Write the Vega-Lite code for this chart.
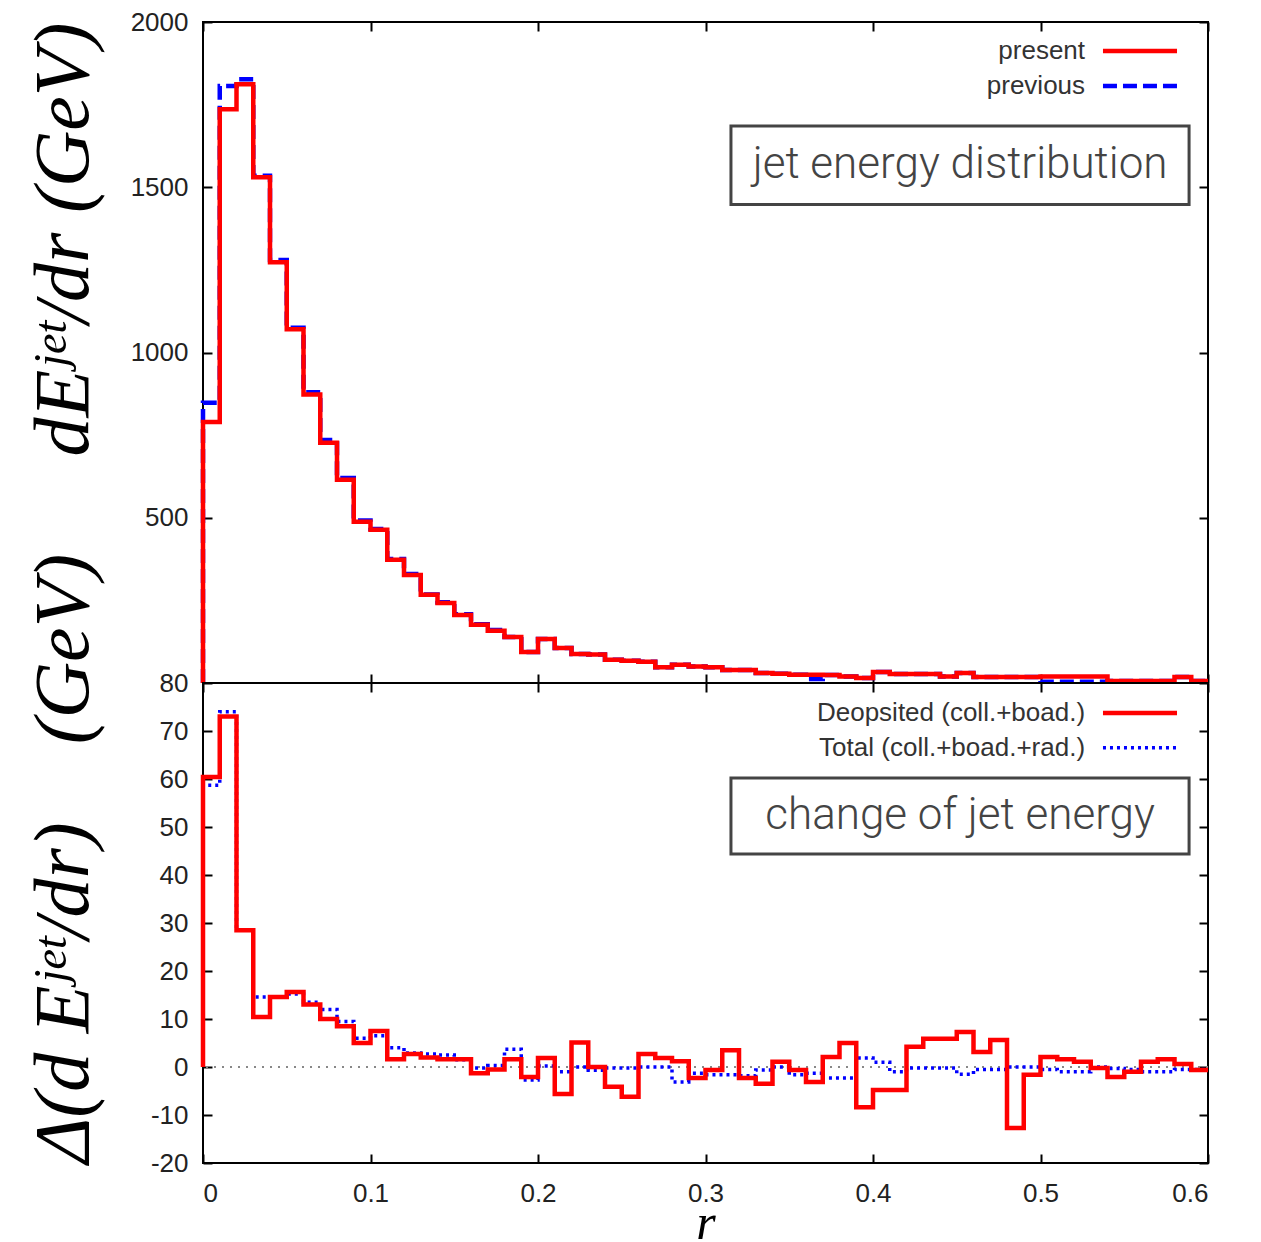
{
  "$schema": "https://vega.github.io/schema/vega-lite/v6.json",
  "background": "white",
  "padding": {"left": 24, "top": 8, "right": 5, "bottom": 0},
  "spacing": 0,
  "bounds": "flush",
  "datasets": {
    "top": [
      {"s":"present","i":0,"r":0,"v":0},{"s":"present","i":1,"r":0,"v":790},{"s":"present","i":2,"r":0.01,"v":1736},{"s":"present","i":3,"r":0.02,"v":1812},{"s":"present","i":4,"r":0.03,"v":1530},{"s":"present","i":5,"r":0.04,"v":1273},{"s":"present","i":6,"r":0.05,"v":1070},{"s":"present","i":7,"r":0.06,"v":873},{"s":"present","i":8,"r":0.07,"v":727},{"s":"present","i":9,"r":0.08,"v":615},{"s":"present","i":10,"r":0.09,"v":488},{"s":"present","i":11,"r":0.10,"v":464},{"s":"present","i":12,"r":0.11,"v":373},{"s":"present","i":13,"r":0.12,"v":327},{"s":"present","i":14,"r":0.13,"v":267},{"s":"present","i":15,"r":0.14,"v":242},{"s":"present","i":16,"r":0.15,"v":206},{"s":"present","i":17,"r":0.16,"v":176},{"s":"present","i":18,"r":0.17,"v":158},{"s":"present","i":19,"r":0.18,"v":139},{"s":"present","i":20,"r":0.19,"v":94},{"s":"present","i":21,"r":0.20,"v":133},{"s":"present","i":22,"r":0.21,"v":106},{"s":"present","i":23,"r":0.22,"v":88},{"s":"present","i":24,"r":0.23,"v":86},{"s":"present","i":25,"r":0.24,"v":70},{"s":"present","i":26,"r":0.25,"v":67},{"s":"present","i":27,"r":0.26,"v":64},{"s":"present","i":28,"r":0.27,"v":48},{"s":"present","i":29,"r":0.28,"v":55},{"s":"present","i":30,"r":0.29,"v":50},{"s":"present","i":31,"r":0.30,"v":48},{"s":"present","i":32,"r":0.31,"v":39},{"s":"present","i":33,"r":0.32,"v":39},{"s":"present","i":34,"r":0.33,"v":30},{"s":"present","i":35,"r":0.34,"v":28},{"s":"present","i":36,"r":0.35,"v":25},{"s":"present","i":37,"r":0.36,"v":25},{"s":"present","i":38,"r":0.37,"v":24},{"s":"present","i":39,"r":0.38,"v":20},{"s":"present","i":40,"r":0.39,"v":15},{"s":"present","i":41,"r":0.40,"v":33},{"s":"present","i":42,"r":0.41,"v":27},{"s":"present","i":43,"r":0.42,"v":27},{"s":"present","i":44,"r":0.43,"v":27},{"s":"present","i":45,"r":0.44,"v":20},{"s":"present","i":46,"r":0.45,"v":30},{"s":"present","i":47,"r":0.46,"v":18},{"s":"present","i":48,"r":0.47,"v":18},{"s":"present","i":49,"r":0.48,"v":18},{"s":"present","i":50,"r":0.49,"v":18},{"s":"present","i":51,"r":0.50,"v":20},{"s":"present","i":52,"r":0.51,"v":20},{"s":"present","i":53,"r":0.52,"v":20},{"s":"present","i":54,"r":0.53,"v":20},{"s":"present","i":55,"r":0.54,"v":6},{"s":"present","i":56,"r":0.55,"v":6},{"s":"present","i":57,"r":0.56,"v":6},{"s":"present","i":58,"r":0.57,"v":6},{"s":"present","i":59,"r":0.58,"v":18},{"s":"present","i":60,"r":0.59,"v":6},{"s":"present","i":61,"r":0.60,"v":6},
      {"s":"previous","i":0,"r":0,"v":0},{"s":"previous","i":1,"r":0,"v":848},{"s":"previous","i":2,"r":0.01,"v":1806},{"s":"previous","i":3,"r":0.02,"v":1827},{"s":"previous","i":4,"r":0.03,"v":1535},{"s":"previous","i":5,"r":0.04,"v":1280},{"s":"previous","i":6,"r":0.05,"v":1075},{"s":"previous","i":7,"r":0.06,"v":880},{"s":"previous","i":8,"r":0.07,"v":735},{"s":"previous","i":9,"r":0.08,"v":620},{"s":"previous","i":10,"r":0.09,"v":492},{"s":"previous","i":11,"r":0.10,"v":466},{"s":"previous","i":12,"r":0.11,"v":375},{"s":"previous","i":13,"r":0.12,"v":330},{"s":"previous","i":14,"r":0.13,"v":268},{"s":"previous","i":15,"r":0.14,"v":244},{"s":"previous","i":16,"r":0.15,"v":208},{"s":"previous","i":17,"r":0.16,"v":178},{"s":"previous","i":18,"r":0.17,"v":160},{"s":"previous","i":19,"r":0.18,"v":139},{"s":"previous","i":20,"r":0.19,"v":94},{"s":"previous","i":21,"r":0.20,"v":133},{"s":"previous","i":22,"r":0.21,"v":106},{"s":"previous","i":23,"r":0.22,"v":88},{"s":"previous","i":24,"r":0.23,"v":86},{"s":"previous","i":25,"r":0.24,"v":70},{"s":"previous","i":26,"r":0.25,"v":67},{"s":"previous","i":27,"r":0.26,"v":64},{"s":"previous","i":28,"r":0.27,"v":48},{"s":"previous","i":29,"r":0.28,"v":55},{"s":"previous","i":30,"r":0.29,"v":50},{"s":"previous","i":31,"r":0.30,"v":48},{"s":"previous","i":32,"r":0.31,"v":39},{"s":"previous","i":33,"r":0.32,"v":39},{"s":"previous","i":34,"r":0.33,"v":30},{"s":"previous","i":35,"r":0.34,"v":28},{"s":"previous","i":36,"r":0.35,"v":25},{"s":"previous","i":37,"r":0.36,"v":12},{"s":"previous","i":38,"r":0.37,"v":24},{"s":"previous","i":39,"r":0.38,"v":20},{"s":"previous","i":40,"r":0.39,"v":15},{"s":"previous","i":41,"r":0.40,"v":33},{"s":"previous","i":42,"r":0.41,"v":27},{"s":"previous","i":43,"r":0.42,"v":27},{"s":"previous","i":44,"r":0.43,"v":27},{"s":"previous","i":45,"r":0.44,"v":20},{"s":"previous","i":46,"r":0.45,"v":30},{"s":"previous","i":47,"r":0.46,"v":18},{"s":"previous","i":48,"r":0.47,"v":18},{"s":"previous","i":49,"r":0.48,"v":18},{"s":"previous","i":50,"r":0.49,"v":18},{"s":"previous","i":51,"r":0.50,"v":4},{"s":"previous","i":52,"r":0.51,"v":4},{"s":"previous","i":53,"r":0.52,"v":4},{"s":"previous","i":54,"r":0.53,"v":4},{"s":"previous","i":55,"r":0.54,"v":6},{"s":"previous","i":56,"r":0.55,"v":6},{"s":"previous","i":57,"r":0.56,"v":6},{"s":"previous","i":58,"r":0.57,"v":6},{"s":"previous","i":59,"r":0.58,"v":18},{"s":"previous","i":60,"r":0.59,"v":6},{"s":"previous","i":61,"r":0.60,"v":6}
    ],
    "bot": [
      {"s":"dep","i":0,"r":0,"v":0},{"s":"dep","i":1,"r":0,"v":60.4},{"s":"dep","i":2,"r":0.01,"v":73},{"s":"dep","i":3,"r":0.02,"v":28.5},{"s":"dep","i":4,"r":0.03,"v":10.4},{"s":"dep","i":5,"r":0.04,"v":14.6},{"s":"dep","i":6,"r":0.05,"v":15.6},{"s":"dep","i":7,"r":0.06,"v":13},{"s":"dep","i":8,"r":0.07,"v":10},{"s":"dep","i":9,"r":0.08,"v":8.5},{"s":"dep","i":10,"r":0.09,"v":5},{"s":"dep","i":11,"r":0.10,"v":7.5},{"s":"dep","i":12,"r":0.11,"v":1.6},{"s":"dep","i":13,"r":0.12,"v":2.7},{"s":"dep","i":14,"r":0.13,"v":2.0},{"s":"dep","i":15,"r":0.14,"v":1.6},{"s":"dep","i":16,"r":0.15,"v":1.6},{"s":"dep","i":17,"r":0.16,"v":-1.3},{"s":"dep","i":18,"r":0.17,"v":-0.5},{"s":"dep","i":19,"r":0.18,"v":1.6},{"s":"dep","i":20,"r":0.19,"v":-2.1},{"s":"dep","i":21,"r":0.20,"v":1.9},{"s":"dep","i":22,"r":0.21,"v":-5.6},{"s":"dep","i":23,"r":0.22,"v":5.1},{"s":"dep","i":24,"r":0.23,"v":0},{"s":"dep","i":25,"r":0.24,"v":-4.1},{"s":"dep","i":26,"r":0.25,"v":-6.2},{"s":"dep","i":27,"r":0.26,"v":2.7},{"s":"dep","i":28,"r":0.27,"v":1.9},{"s":"dep","i":29,"r":0.28,"v":1.2},{"s":"dep","i":30,"r":0.29,"v":-2.3},{"s":"dep","i":31,"r":0.30,"v":-0.6},{"s":"dep","i":32,"r":0.31,"v":3.5},{"s":"dep","i":33,"r":0.32,"v":-2.3},{"s":"dep","i":34,"r":0.33,"v":-3.5},{"s":"dep","i":35,"r":0.34,"v":1.1},{"s":"dep","i":36,"r":0.35,"v":-0.6},{"s":"dep","i":37,"r":0.36,"v":-3.1},{"s":"dep","i":38,"r":0.37,"v":2.1},{"s":"dep","i":39,"r":0.38,"v":5.0},{"s":"dep","i":40,"r":0.39,"v":-8.4},{"s":"dep","i":41,"r":0.40,"v":-4.8},{"s":"dep","i":42,"r":0.41,"v":-4.8},{"s":"dep","i":43,"r":0.42,"v":4.2},{"s":"dep","i":44,"r":0.43,"v":5.9},{"s":"dep","i":45,"r":0.44,"v":5.9},{"s":"dep","i":46,"r":0.45,"v":7.3},{"s":"dep","i":47,"r":0.46,"v":3.1},{"s":"dep","i":48,"r":0.47,"v":5.6},{"s":"dep","i":49,"r":0.48,"v":-12.7},{"s":"dep","i":50,"r":0.49,"v":-1.6},{"s":"dep","i":51,"r":0.50,"v":2.1},{"s":"dep","i":52,"r":0.51,"v":1.6},{"s":"dep","i":53,"r":0.52,"v":1.1},{"s":"dep","i":54,"r":0.53,"v":-0.2},{"s":"dep","i":55,"r":0.54,"v":-2.1},{"s":"dep","i":56,"r":0.55,"v":-1.0},{"s":"dep","i":57,"r":0.56,"v":1.1},{"s":"dep","i":58,"r":0.57,"v":1.6},{"s":"dep","i":59,"r":0.58,"v":0.6},{"s":"dep","i":60,"r":0.59,"v":-0.6},{"s":"dep","i":61,"r":0.60,"v":-0.6},
      {"s":"tot","i":0,"r":0,"v":0},{"s":"tot","i":1,"r":0,"v":58.7},{"s":"tot","i":2,"r":0.01,"v":74},{"s":"tot","i":3,"r":0.02,"v":28.5},{"s":"tot","i":4,"r":0.03,"v":14.6},{"s":"tot","i":5,"r":0.04,"v":14.6},{"s":"tot","i":6,"r":0.05,"v":15.2},{"s":"tot","i":7,"r":0.06,"v":13.5},{"s":"tot","i":8,"r":0.07,"v":12},{"s":"tot","i":9,"r":0.08,"v":9.5},{"s":"tot","i":10,"r":0.09,"v":6},{"s":"tot","i":11,"r":0.10,"v":6.5},{"s":"tot","i":12,"r":0.11,"v":4.0},{"s":"tot","i":13,"r":0.12,"v":2.9},{"s":"tot","i":14,"r":0.13,"v":2.7},{"s":"tot","i":15,"r":0.14,"v":2.5},{"s":"tot","i":16,"r":0.15,"v":1.5},{"s":"tot","i":17,"r":0.16,"v":-0.2},{"s":"tot","i":18,"r":0.17,"v":0.3},{"s":"tot","i":19,"r":0.18,"v":3.7},{"s":"tot","i":20,"r":0.19,"v":-2.7},{"s":"tot","i":21,"r":0.20,"v":0.2},{"s":"tot","i":22,"r":0.21,"v":-1.0},{"s":"tot","i":23,"r":0.22,"v":0},{"s":"tot","i":24,"r":0.23,"v":-0.7},{"s":"tot","i":25,"r":0.24,"v":-0.2},{"s":"tot","i":26,"r":0.25,"v":-0.2},{"s":"tot","i":27,"r":0.26,"v":0},{"s":"tot","i":28,"r":0.27,"v":0},{"s":"tot","i":29,"r":0.28,"v":-3.1},{"s":"tot","i":30,"r":0.29,"v":-1.3},{"s":"tot","i":31,"r":0.30,"v":-1.6},{"s":"tot","i":32,"r":0.31,"v":-1.6},{"s":"tot","i":33,"r":0.32,"v":-1.8},{"s":"tot","i":34,"r":0.33,"v":-0.6},{"s":"tot","i":35,"r":0.34,"v":0},{"s":"tot","i":36,"r":0.35,"v":-1.6},{"s":"tot","i":37,"r":0.36,"v":-1.3},{"s":"tot","i":38,"r":0.37,"v":-2.3},{"s":"tot","i":39,"r":0.38,"v":-2.3},{"s":"tot","i":40,"r":0.39,"v":1.9},{"s":"tot","i":41,"r":0.40,"v":1.0},{"s":"tot","i":42,"r":0.41,"v":-1.0},{"s":"tot","i":43,"r":0.42,"v":-0.2},{"s":"tot","i":44,"r":0.43,"v":-0.2},{"s":"tot","i":45,"r":0.44,"v":-0.2},{"s":"tot","i":46,"r":0.45,"v":-1.5},{"s":"tot","i":47,"r":0.46,"v":-0.5},{"s":"tot","i":48,"r":0.47,"v":-0.5},{"s":"tot","i":49,"r":0.48,"v":0},{"s":"tot","i":50,"r":0.49,"v":0},{"s":"tot","i":51,"r":0.50,"v":-0.5},{"s":"tot","i":52,"r":0.51,"v":-1.0},{"s":"tot","i":53,"r":0.52,"v":-1.0},{"s":"tot","i":54,"r":0.53,"v":0},{"s":"tot","i":55,"r":0.54,"v":-0.3},{"s":"tot","i":56,"r":0.55,"v":-0.5},{"s":"tot","i":57,"r":0.56,"v":-1.0},{"s":"tot","i":58,"r":0.57,"v":-1.0},{"s":"tot","i":59,"r":0.58,"v":-0.5},{"s":"tot","i":60,"r":0.59,"v":-0.5},{"s":"tot","i":61,"r":0.60,"v":-0.5}
    ],
    "topLeg": [
      {"label":"present","s":"present","x":0.5266,"x1":0.5373,"x2":0.5815,"v":1912},
      {"label":"previous","s":"previous","x":0.5266,"x1":0.5373,"x2":0.5815,"v":1806}
    ],
    "botLeg": [
      {"label":"Deopsited (coll.+boad.)","s":"dep","x":0.5266,"x1":0.5373,"x2":0.5815,"v":73.75},
      {"label":"Total (coll.+boad.+rad.)","s":"tot","x":0.5266,"x1":0.5373,"x2":0.5815,"v":66.5}
    ],
    "topBox": [{"label":"jet energy distribution","x1":0.3152,"x2":0.5887,"xc":0.452,"y1":1448,"y2":1685,"yc":1567}],
    "botBox": [{"label":"change of jet energy","x1":0.3152,"x2":0.5887,"xc":0.452,"y1":44.4,"y2":60.2,"yc":52.3}]
  },
  "vconcat": [
    {
      "width": 1005,
      "height": 661,
      "layer": [
        {
          "data": {"name": "top"},
          "transform": [{"filter": "datum.s == 'previous'"}],
          "mark": {"type": "line", "interpolate": "step-after", "color": "#0000ff", "strokeWidth": 4.5, "strokeDash": [14, 6]},
          "encoding": {
            "x": {"field": "r", "type": "quantitative", "scale": {"domain": [0, 0.6], "nice": false}, "axis": null},
            "y": {"field": "v", "type": "quantitative", "scale": {"domain": [0, 2000], "nice": false}, "axis": null},
            "order": {"field": "i"}
          }
        },
        {
          "data": {"name": "top"},
          "transform": [{"filter": "datum.s == 'present'"}],
          "mark": {"type": "line", "interpolate": "step-after", "color": "#ff0000", "strokeWidth": 4.5},
          "encoding": {
            "x": {"field": "r", "type": "quantitative", "axis": {"orient": "bottom", "values": [0, 0.1, 0.2, 0.3, 0.4, 0.5, 0.6], "labels": false, "title": null}},
            "y": {"field": "v", "type": "quantitative", "axis": {"orient": "left", "values": [500, 1000, 1500, 2000], "format": "d", "title": "dE\u02b2\u1d49\u1d57/dr (GeV)", "titleAnchor": "end", "titlePadding": 27}},
            "order": {"field": "i"}
          }
        },
        {
          "data": {"name": "topBox"},
          "mark": {"type": "rect", "fill": "white", "stroke": "#444444", "strokeWidth": 3},
          "encoding": {
            "x": {"field": "x1", "type": "quantitative", "axis": null},
            "x2": {"field": "x2"},
            "y": {"field": "y1", "type": "quantitative", "axis": null},
            "y2": {"field": "y2"}
          }
        },
        {
          "data": {"name": "topBox"},
          "mark": {"type": "text", "font": "Roboto", "fontWeight": 300, "fontSize": 44, "color": "#444444", "align": "center", "baseline": "middle"},
          "encoding": {
            "x": {"field": "xc", "type": "quantitative", "axis": null},
            "y": {"field": "yc", "type": "quantitative", "axis": null},
            "text": {"field": "label"}
          }
        },
        {
          "data": {"name": "topLeg"},
          "mark": {"type": "text", "font": "Liberation Sans", "fontSize": 26, "color": "#333333", "align": "right", "baseline": "middle"},
          "encoding": {
            "x": {"field": "x", "type": "quantitative", "axis": null},
            "y": {"field": "v", "type": "quantitative", "axis": null},
            "text": {"field": "label"}
          }
        },
        {
          "data": {"name": "topLeg"},
          "transform": [{"filter": "datum.s == 'present'"}],
          "mark": {"type": "rule", "color": "#ff0000", "strokeWidth": 4.5},
          "encoding": {
            "x": {"field": "x1", "type": "quantitative", "axis": {"orient": "top", "values": [0, 0.1, 0.2, 0.3, 0.4, 0.5, 0.6], "labels": false, "title": null}},
            "x2": {"field": "x2"},
            "y": {"field": "v", "type": "quantitative", "axis": {"orient": "right", "values": [500, 1000, 1500, 2000], "labels": false, "title": null}}
          }
        },
        {
          "data": {"name": "topLeg"},
          "transform": [{"filter": "datum.s == 'previous'"}],
          "mark": {"type": "rule", "color": "#0000ff", "strokeWidth": 4.5, "strokeDash": [14, 6]},
          "encoding": {
            "x": {"field": "x1", "type": "quantitative", "axis": null},
            "x2": {"field": "x2"},
            "y": {"field": "v", "type": "quantitative", "axis": null}
          }
        }
      ],
      "resolve": {"axis": {"x": "independent", "y": "independent"}}
    },
    {
      "width": 1005,
      "height": 480,
      "layer": [
        {
          "data": {"name": "bot"},
          "mark": {"type": "rule", "color": "#888888", "strokeWidth": 1.5, "strokeDash": [2, 6]},
          "encoding": {
            "y": {"datum": 0, "type": "quantitative", "scale": {"domain": [-20, 80], "nice": false}, "axis": null}
          }
        },
        {
          "data": {"name": "bot"},
          "transform": [{"filter": "datum.s == 'tot'"}],
          "mark": {"type": "line", "interpolate": "step-after", "color": "#0000ff", "strokeWidth": 3.5, "strokeDash": [3, 4]},
          "encoding": {
            "x": {"field": "r", "type": "quantitative", "scale": {"domain": [0, 0.6], "nice": false}, "axis": null},
            "y": {"field": "v", "type": "quantitative", "axis": null},
            "order": {"field": "i"}
          }
        },
        {
          "data": {"name": "bot"},
          "transform": [{"filter": "datum.s == 'dep'"}],
          "mark": {"type": "line", "interpolate": "step-after", "color": "#ff0000", "strokeWidth": 4.5},
          "encoding": {
            "x": {"field": "r", "type": "quantitative", "axis": {"orient": "bottom", "values": [0, 0.1, 0.2, 0.3, 0.4, 0.5, 0.6], "format": ".1~f", "title": "r", "titleFontSize": 50, "titlePadding": -8}},
            "y": {"field": "v", "type": "quantitative", "axis": {"orient": "left", "values": [-20, -10, 0, 10, 20, 30, 40, 50, 60, 70, 80], "format": "d", "labelExpr": "datum.value < 0 ? '-' + abs(datum.value) : datum.label", "title": "\u0394(d E\u02b2\u1d49\u1d57/dr)\u2003(GeV)", "titleAnchor": "start", "titlePadding": 47}},
            "order": {"field": "i"}
          }
        },
        {
          "data": {"name": "botBox"},
          "mark": {"type": "rect", "fill": "white", "stroke": "#444444", "strokeWidth": 3},
          "encoding": {
            "x": {"field": "x1", "type": "quantitative", "axis": null},
            "x2": {"field": "x2"},
            "y": {"field": "y1", "type": "quantitative", "axis": null},
            "y2": {"field": "y2"}
          }
        },
        {
          "data": {"name": "botBox"},
          "mark": {"type": "text", "font": "Roboto", "fontWeight": 300, "fontSize": 44, "color": "#444444", "align": "center", "baseline": "middle"},
          "encoding": {
            "x": {"field": "xc", "type": "quantitative", "axis": null},
            "y": {"field": "yc", "type": "quantitative", "axis": null},
            "text": {"field": "label"}
          }
        },
        {
          "data": {"name": "botLeg"},
          "mark": {"type": "text", "font": "Liberation Sans", "fontSize": 26, "color": "#333333", "align": "right", "baseline": "middle"},
          "encoding": {
            "x": {"field": "x", "type": "quantitative", "axis": null},
            "y": {"field": "v", "type": "quantitative", "axis": null},
            "text": {"field": "label"}
          }
        },
        {
          "data": {"name": "botLeg"},
          "transform": [{"filter": "datum.s == 'dep'"}],
          "mark": {"type": "rule", "color": "#ff0000", "strokeWidth": 4.5},
          "encoding": {
            "x": {"field": "x1", "type": "quantitative", "axis": {"orient": "top", "values": [0, 0.1, 0.2, 0.3, 0.4, 0.5, 0.6], "labels": false, "title": null}},
            "x2": {"field": "x2"},
            "y": {"field": "v", "type": "quantitative", "axis": {"orient": "right", "values": [-20, -10, 0, 10, 20, 30, 40, 50, 60, 70, 80], "labels": false, "title": null}}
          }
        },
        {
          "data": {"name": "botLeg"},
          "transform": [{"filter": "datum.s == 'tot'"}],
          "mark": {"type": "rule", "color": "#0000ff", "strokeWidth": 3.5, "strokeDash": [3, 4]},
          "encoding": {
            "x": {"field": "x1", "type": "quantitative", "axis": null},
            "x2": {"field": "x2"},
            "y": {"field": "v", "type": "quantitative", "axis": null}
          }
        }
      ],
      "resolve": {"axis": {"x": "independent", "y": "independent"}}
    }
  ],
  "config": {
    "view": {"stroke": "#000000", "strokeWidth": 2},
    "axis": {
      "grid": false,
      "domain": false,
      "tickColor": "#000000",
      "tickWidth": 2,
      "tickSize": -9,
      "labelFont": "Liberation Sans",
      "labelFontSize": 26,
      "labelColor": "#222222",
      "titleFont": "Liberation Serif",
      "titleFontStyle": "italic",
      "titleFontWeight": "normal",
      "titleFontSize": 78,
      "titleColor": "#000000"
    },
    "axisX": {"labelPadding": 26},
    "axisY": {"labelPadding": 24}
  }
}
